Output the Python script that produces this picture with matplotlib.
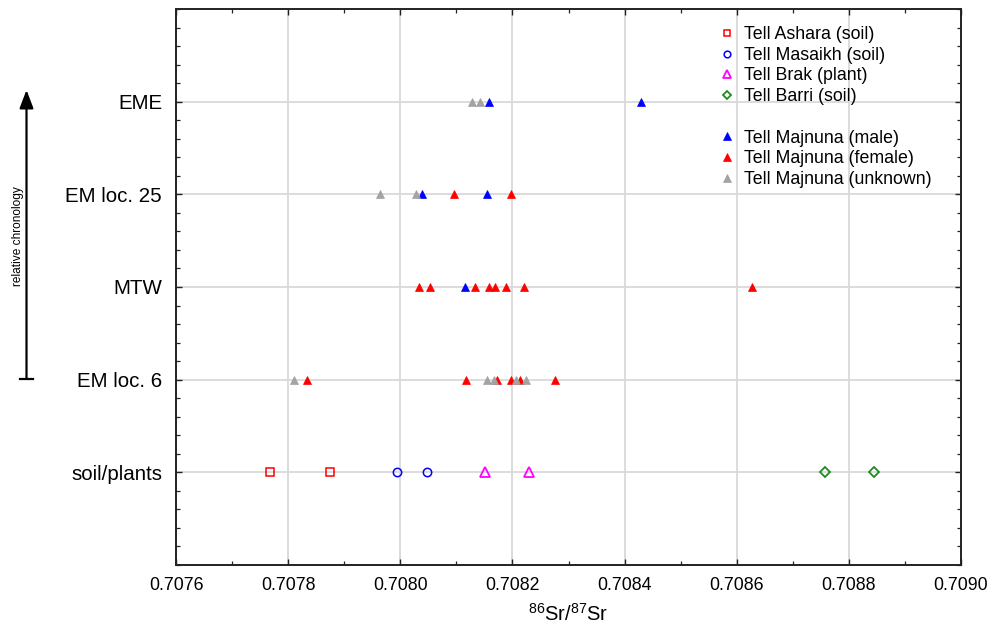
import matplotlib
matplotlib.use("Agg")
import matplotlib.pyplot as plt
from matplotlib.lines import Line2D
from matplotlib.ticker import MultipleLocator, FixedLocator

plt.rcParams['font.family'] = ['Liberation Sans', 'DejaVu Sans']
plt.rcParams['mathtext.fontset'] = 'custom'
plt.rcParams['mathtext.rm'] = 'Liberation Sans'
plt.rcParams['mathtext.it'] = 'Liberation Sans'

# Row categories (bottom to top)
categories = ["soil/plants", "EM loc. 6", "MTW", "EM loc. 25", "EME"]

# Soil / plant samples (row 0)
ashara_x = [0.707768, 0.707875]
masaikh_x = [0.707994, 0.708048]
brak_x = [0.708151, 0.708230]
barri_x = [0.708757, 0.708845]

# Tell Majnuna human samples: (row index, value)
male_row = [4, 4, 3, 3, 2]
male_x = [0.708158, 0.708430, 0.708039, 0.708155, 0.708116]

female_row = [3, 3, 2, 2, 2, 2, 2, 2, 2, 2, 1, 1, 1, 1, 1, 1]
female_x = [0.708095, 0.708198,
            0.708034, 0.708053, 0.708133, 0.708158, 0.708169, 0.708189, 0.708221, 0.708627,
            0.707833, 0.708117, 0.708172, 0.708197, 0.708214, 0.708276]

unknown_row = [4, 4, 3, 3, 1, 1, 1, 1, 1]
unknown_x = [0.708128, 0.708142, 0.707964, 0.708028,
             0.707810, 0.708155, 0.708167, 0.708206, 0.708224]

x_ticks = [0.7076, 0.7078, 0.7080, 0.7082, 0.7084, 0.7086, 0.7088, 0.7090]
x_tick_labels = ["0.7076", "0.7078", "0.7080", "0.7082", "0.7084", "0.7086", "0.7088", "0.7090"]

fig = plt.figure(figsize=(10.03, 6.28), dpi=100)
ax = fig.add_axes([176/1003, 1-565/628, (961-176)/1003, (565-9)/628])

RED = '#ff0000'
BLUE = '#0000ff'
MAG = '#ff00ff'
GREEN = '#1e8c1e'
GRAY = '#a3a3a3'

ms_open = 6.0
mew = 1.1
ax.plot(ashara_x, [0]*len(ashara_x), linestyle='none', marker='s', ms=ms_open, mfc='none', mec=RED, mew=mew, label='Tell Ashara (soil)', zorder=3)
ax.plot(masaikh_x, [0]*len(masaikh_x), linestyle='none', marker='o', ms=ms_open, mfc='none', mec=BLUE, mew=mew, label='Tell Masaikh (soil)', zorder=3)
ax.plot(brak_x, [0]*len(brak_x), linestyle='none', marker='^', ms=ms_open+1, mfc='none', mec=MAG, mew=mew+0.2, label='Tell Brak (plant)', zorder=3)
ax.plot(barri_x, [0]*len(barri_x), linestyle='none', marker='D', ms=ms_open-0.8, mfc='none', mec=GREEN, mew=mew+0.2, label='Tell Barri (soil)', zorder=3)

ms_t = 6.4
ax.plot(male_x, male_row, linestyle='none', marker='^', ms=ms_t, mfc=BLUE, mec=BLUE, mew=0.5, label='Tell Majnuna (male)', zorder=3)
ax.plot(female_x, female_row, linestyle='none', marker='^', ms=ms_t, mfc=RED, mec=RED, mew=0.5, label='Tell Majnuna (female)', zorder=3)
ax.plot(unknown_x, unknown_row, linestyle='none', marker='^', ms=ms_t, mfc=GRAY, mec=GRAY, mew=0.5, label='Tell Majnuna (unknown)', zorder=3)

ax.set_xlim(0.7076, 0.7090)
ax.set_ylim(-1, 5)

ax.xaxis.set_major_locator(FixedLocator(x_ticks))
ax.set_xticklabels(x_tick_labels)
ax.xaxis.set_minor_locator(MultipleLocator(0.0001))
ax.yaxis.set_major_locator(FixedLocator(list(range(len(categories)))))
ax.set_yticklabels(categories)
ax.yaxis.set_minor_locator(MultipleLocator(0.2))

ax.tick_params(axis='both', which='both', direction='in', top=True, right=True, color='#222222')
ax.tick_params(axis='both', which='major', length=4, width=1.0)
ax.tick_params(axis='both', which='minor', length=3, width=0.9)
ax.tick_params(axis='x', which='major', labelsize=12.8, pad=9)
ax.tick_params(axis='y', which='major', labelsize=14.8, pad=10)

ax.grid(True, which='major', color='#d9d9d9', linewidth=1.3, zorder=0)
ax.set_axisbelow(True)
for s in ax.spines.values():
    s.set_linewidth(1.4)
    s.set_color('#222222')

ax.set_xlabel(r'$^{86}$Sr/$^{87}$Sr', fontsize=14.5, labelpad=6)

# Legend with a blank spacer row
handles, labels = ax.get_legend_handles_labels()
blank = Line2D([], [], linestyle='none', marker='none')
handles = handles[:4] + [blank] + handles[4:]
labels = labels[:4] + [' '] + labels[4:]
leg = ax.legend(handles, labels, loc='upper left', bbox_to_anchor=(717/1003, 1-26/628),
                bbox_transform=fig.transFigure, frameon=False, fontsize=12.8,
                handlelength=1.1, handletextpad=0.4, labelspacing=0.21,
                borderpad=0, borderaxespad=0, markerscale=0.8)

# Relative chronology arrow
W, H = 1003, 628
fig.add_artist(Line2D([20/W, 33/W], [1-379/H, 1-379/H], color='black', lw=1.6, transform=fig.transFigure))
ax.annotate('', xy=(26.5/W, 1-90/H), xycoords='figure fraction',
            xytext=(26.5/W, 1-379/H), textcoords='figure fraction',
            arrowprops=dict(arrowstyle='-|>,head_length=1.1,head_width=0.42', color='black', lw=1.6,
                            shrinkA=0, shrinkB=0))
fig.text(18.5/W, 1-236/H, 'relative chronology', rotation=90, fontsize=8.6,
         ha='center', va='center', family=['Liberation Sans Narrow', 'Liberation Sans', 'DejaVu Sans'])

fig.savefig('out.png', dpi=100)
